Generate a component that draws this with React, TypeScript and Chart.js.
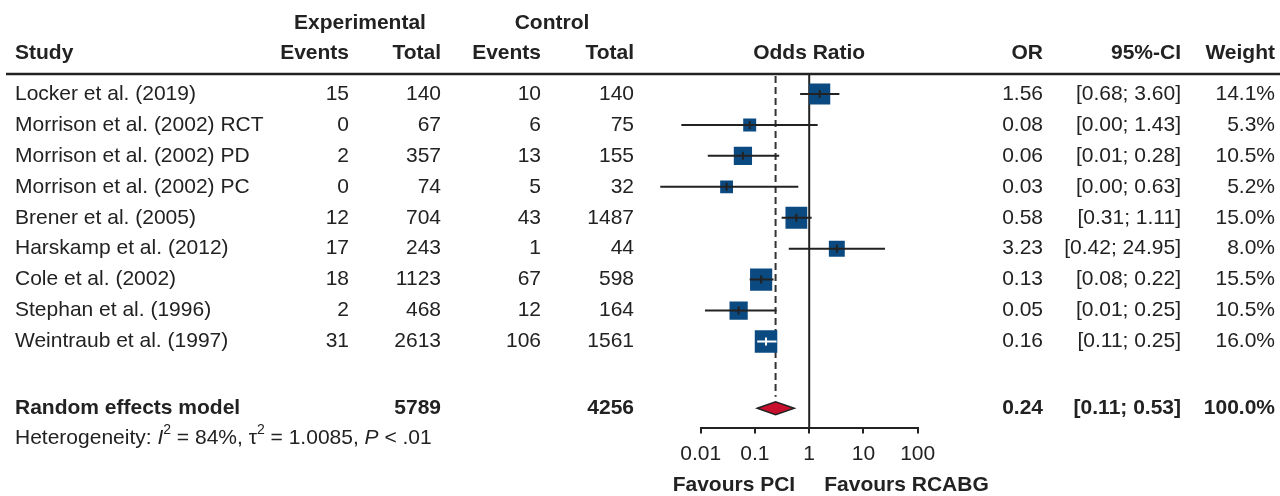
import { useEffect, useRef } from "react";
import { Chart, registerables } from "chart.js";

Chart.register(...registerables);

// ---------------- data ----------------
const studies = [
  "Locker et al. (2019)",
  "Morrison et al. (2002) RCT",
  "Morrison et al. (2002) PD",
  "Morrison et al. (2002) PC",
  "Brener et al. (2005)",
  "Harskamp et al. (2012)",
  "Cole et al. (2002)",
  "Stephan et al. (1996)",
  "Weintraub et al. (1997)",
];
const expEvents = [15, 0, 2, 0, 12, 17, 18, 2, 31];
const expTotal = [140, 67, 357, 74, 704, 243, 1123, 468, 2613];
const ctrlEvents = [10, 6, 13, 5, 43, 1, 67, 12, 106];
const ctrlTotal = [140, 75, 155, 32, 1487, 44, 598, 164, 1561];
const oddsRatio = [1.56, 0.08, 0.06, 0.03, 0.58, 3.23, 0.13, 0.05, 0.16];
const ciLower = [0.68, 0.0044, 0.0135, 0.0018, 0.31, 0.42, 0.08, 0.012, 0.11];
const ciUpper = [3.6, 1.43, 0.28, 0.63, 1.11, 24.95, 0.22, 0.25, 0.25];
const weights = [14.1, 5.3, 10.5, 5.2, 15.0, 8.0, 15.5, 10.5, 16.0];

const summaryLabel = "Random effects model";
const summaryExpTotal = 5789;
const summaryCtrlTotal = 4256;
const summaryOR = 0.24;
const summaryLower = 0.11;
const summaryUpper = 0.53;
const summaryWeight = 100.0;

const hetI2 = "84%";
const hetTau2 = "1.0085";
const hetP = "< .01";

const xTicks = [0.01, 0.1, 1, 10, 100];
const labelLeft = "Favours PCI";
const labelRight = "Favours RCABG";

// ---------------- layout / style ----------------
const W = 1280;
const H = 496;
const FONT = '"Liberation Sans", Arial, Helvetica, sans-serif';
const FS = 21;
const INK = "#222222";
const SQUARE_COLOR = "#0B4A80";
const DIAMOND_COLOR = "#C8102E";
const SQUARE_SCALE = 5.63; // px side per sqrt(weight %)
const DIAMOND_HALF_H = 6.5;

const ROW_HEADER1 = -2.3;
const ROW_HEADER2 = -1.33;
const ROW_SUMMARY = 10.16;
const ROW_HET = 11.11;
const ROW_FAVOURS = 12.63;
const Y_MIN = -0.646;
const Y_MAX = 10.78;

const COL_STUDY = 15;
const COL_EXP_EV = 349;
const COL_EXP_TOT = 441;
const COL_CTRL_EV = 541;
const COL_CTRL_TOT = 634;
const COL_OR = 1043;
const COL_CI = 1181;
const COL_W = 1275;
const EXP_CENTER = 360;
const CTRL_CENTER = 552;

function font(bold = false, italic = false, size = FS) {
  return `${italic ? "italic " : ""}${bold ? "bold " : ""}${size}px ${FONT}`;
}

function txt(
  ctx: CanvasRenderingContext2D,
  s: string,
  x: number,
  y: number,
  align: CanvasTextAlign = "left",
  bold = false
) {
  ctx.font = font(bold);
  ctx.textAlign = align;
  ctx.textBaseline = "middle";
  ctx.fillStyle = INK;
  ctx.fillText(s, x, y);
}

const fmtCI = (lo: number, hi: number) => `[${lo.toFixed(2)}; ${hi.toFixed(2)}]`;

const forestPlugin = {
  id: "forest",
  beforeDatasetsDraw(chart: any) {
    const { ctx, chartArea, scales } = chart;
    const x = scales.x;
    const y = scales.y;
    ctx.save();
    // header rule
    ctx.strokeStyle = INK;
    ctx.lineWidth = 2.5;
    ctx.beginPath();
    ctx.moveTo(6, chartArea.top);
    ctx.lineTo(W, chartArea.top);
    ctx.stroke();
    // null effect line
    const x1 = x.getPixelForValue(1);
    ctx.lineWidth = 2;
    ctx.beginPath();
    ctx.moveTo(x1, chartArea.top);
    ctx.lineTo(x1, chartArea.bottom);
    ctx.stroke();
    // summary dashed line
    const xs = x.getPixelForValue(summaryOR);
    ctx.strokeStyle = "#333333";
    ctx.setLineDash([7, 4]);
    ctx.beginPath();
    ctx.moveTo(xs, chartArea.top + 2);
    ctx.lineTo(xs, y.getPixelForValue(ROW_SUMMARY) - DIAMOND_HALF_H - 5);
    ctx.stroke();
    ctx.restore();
  },
  afterDatasetsDraw(chart: any) {
    const { ctx, scales } = chart;
    const x = scales.x;
    const y = scales.y;
    ctx.save();
    ctx.lineWidth = 2;
    studies.forEach((_, i) => {
      const py = y.getPixelForValue(i);
      const pl = x.getPixelForValue(ciLower[i]);
      const pu = x.getPixelForValue(ciUpper[i]);
      const pe = x.getPixelForValue(oddsRatio[i]);
      const half = (SQUARE_SCALE * Math.sqrt(weights[i])) / 2;
      const inside = pl >= pe - half - 0.5 && pu <= pe + half + 0.5;
      ctx.strokeStyle = inside ? "#FFFFFF" : INK;
      ctx.beginPath();
      ctx.moveTo(pl, py);
      ctx.lineTo(pu, py);
      ctx.moveTo(pe, py - 4);
      ctx.lineTo(pe, py + 4);
      ctx.stroke();
    });
    // diamond
    const yc = y.getPixelForValue(ROW_SUMMARY);
    const dl = x.getPixelForValue(summaryLower);
    const de = x.getPixelForValue(summaryOR);
    const du = x.getPixelForValue(summaryUpper);
    ctx.beginPath();
    ctx.moveTo(dl, yc);
    ctx.lineTo(de, yc - DIAMOND_HALF_H);
    ctx.lineTo(du, yc);
    ctx.lineTo(de, yc + DIAMOND_HALF_H);
    ctx.closePath();
    ctx.fillStyle = DIAMOND_COLOR;
    ctx.fill();
    ctx.strokeStyle = INK;
    ctx.lineWidth = 1.5;
    ctx.stroke();
    ctx.restore();
  },
  afterDraw(chart: any) {
    const { ctx, scales } = chart;
    const x = scales.x;
    const y = scales.y;
    ctx.save();
    const h1 = y.getPixelForValue(ROW_HEADER1);
    const h2 = y.getPixelForValue(ROW_HEADER2);
    txt(ctx, "Experimental", EXP_CENTER, h1, "center", true);
    txt(ctx, "Control", CTRL_CENTER, h1, "center", true);
    txt(ctx, "Study", COL_STUDY, h2, "left", true);
    txt(ctx, "Events", COL_EXP_EV, h2, "right", true);
    txt(ctx, "Total", COL_EXP_TOT, h2, "right", true);
    txt(ctx, "Events", COL_CTRL_EV, h2, "right", true);
    txt(ctx, "Total", COL_CTRL_TOT, h2, "right", true);
    const xMid = (chart.chartArea.left + chart.chartArea.right) / 2;
    txt(ctx, "Odds Ratio", xMid, h2, "center", true);
    txt(ctx, "OR", COL_OR, h2, "right", true);
    txt(ctx, "95%-CI", COL_CI, h2, "right", true);
    txt(ctx, "Weight", COL_W, h2, "right", true);

    studies.forEach((s, i) => {
      const py = y.getPixelForValue(i);
      txt(ctx, s, COL_STUDY, py);
      txt(ctx, String(expEvents[i]), COL_EXP_EV, py, "right");
      txt(ctx, String(expTotal[i]), COL_EXP_TOT, py, "right");
      txt(ctx, String(ctrlEvents[i]), COL_CTRL_EV, py, "right");
      txt(ctx, String(ctrlTotal[i]), COL_CTRL_TOT, py, "right");
      txt(ctx, oddsRatio[i].toFixed(2), COL_OR, py, "right");
      txt(ctx, fmtCI(ciLower[i], ciUpper[i]), COL_CI, py, "right");
      txt(ctx, `${weights[i].toFixed(1)}%`, COL_W, py, "right");
    });

    const ps = y.getPixelForValue(ROW_SUMMARY);
    txt(ctx, summaryLabel, COL_STUDY, ps, "left", true);
    txt(ctx, String(summaryExpTotal), COL_EXP_TOT, ps, "right", true);
    txt(ctx, String(summaryCtrlTotal), COL_CTRL_TOT, ps, "right", true);
    txt(ctx, summaryOR.toFixed(2), COL_OR, ps, "right", true);
    txt(ctx, fmtCI(summaryLower, summaryUpper), COL_CI, ps, "right", true);
    txt(ctx, `${summaryWeight.toFixed(1)}%`, COL_W, ps, "right", true);

    // heterogeneity line
    const ph = y.getPixelForValue(ROW_HET);
    const parts: [string, "n" | "i" | "s"][] = [
      ["Heterogeneity: ", "n"],
      ["I", "i"],
      ["2", "s"],
      [` = ${hetI2}, \u03c4`, "n"],
      ["2", "s"],
      [` = ${hetTau2}, `, "n"],
      ["P", "i"],
      [` ${hetP}`, "n"],
    ];
    let cx = COL_STUDY;
    ctx.textAlign = "left";
    ctx.textBaseline = "middle";
    ctx.fillStyle = INK;
    for (const [s, kind] of parts) {
      if (kind === "s") {
        ctx.font = font(false, false, 14);
        ctx.fillText(s, cx, ph - 8);
      } else {
        ctx.font = font(false, kind === "i");
        ctx.fillText(s, cx, ph);
      }
      cx += ctx.measureText(s).width;
    }

    // favours labels
    const pf = y.getPixelForValue(ROW_FAVOURS);
    const x1 = x.getPixelForValue(1);
    txt(ctx, labelLeft, x1 - 14, pf, "right", true);
    txt(ctx, labelRight, x1 + 15, pf, "left", true);
    ctx.restore();
  },
};

export default function App() {
  const ref = useRef<HTMLCanvasElement | null>(null);
  useEffect(() => {
    if (!ref.current) return;
    const radii = weights.map((w) => (SQUARE_SCALE * Math.sqrt(w)) / Math.SQRT2);
    const chart = new Chart(ref.current, {
      type: "scatter",
      data: {
        datasets: [
          {
            data: oddsRatio.map((v, i) => ({ x: v, y: i })),
            pointStyle: "rect",
            pointRadius: radii,
            pointHoverRadius: radii,
            backgroundColor: SQUARE_COLOR,
            borderWidth: 0,
          },
        ],
      },
      options: {
        animation: false,
        responsive: false,
        devicePixelRatio: 1,
        events: [],
        layout: { padding: { left: 700.7, right: W - 917.7, top: 74, bottom: 21.3 } },
        plugins: { legend: { display: false }, tooltip: { enabled: false } },
        scales: {
          x: {
            type: "logarithmic",
            position: "bottom",
            min: 0.01,
            max: 100,
            afterBuildTicks: (scale: any) => {
              scale.ticks = xTicks.map((v) => ({ value: v }));
            },
            ticks: {
              callback: (v: any) => String(v),
              font: { family: FONT, size: FS },
              color: INK,
              padding: 8,
              maxRotation: 0,
              autoSkip: false,
            },
            grid: {
              display: true,
              drawOnChartArea: false,
              drawTicks: true,
              tickLength: 6,
              color: INK,
              lineWidth: 2,
            },
            border: { display: true, color: INK, width: 2 },
          },
          y: {
            type: "linear",
            display: false,
            reverse: true,
            min: Y_MIN,
            max: Y_MAX,
          },
        },
      },
      plugins: [forestPlugin],
    });
    return () => chart.destroy();
  }, []);
  return (
    <div style={{ position: "absolute", left: 0, top: 0, width: W, height: H, background: "#fff" }}>
      <canvas ref={ref} width={W} height={H} style={{ display: "block" }} />
    </div>
  );
}
